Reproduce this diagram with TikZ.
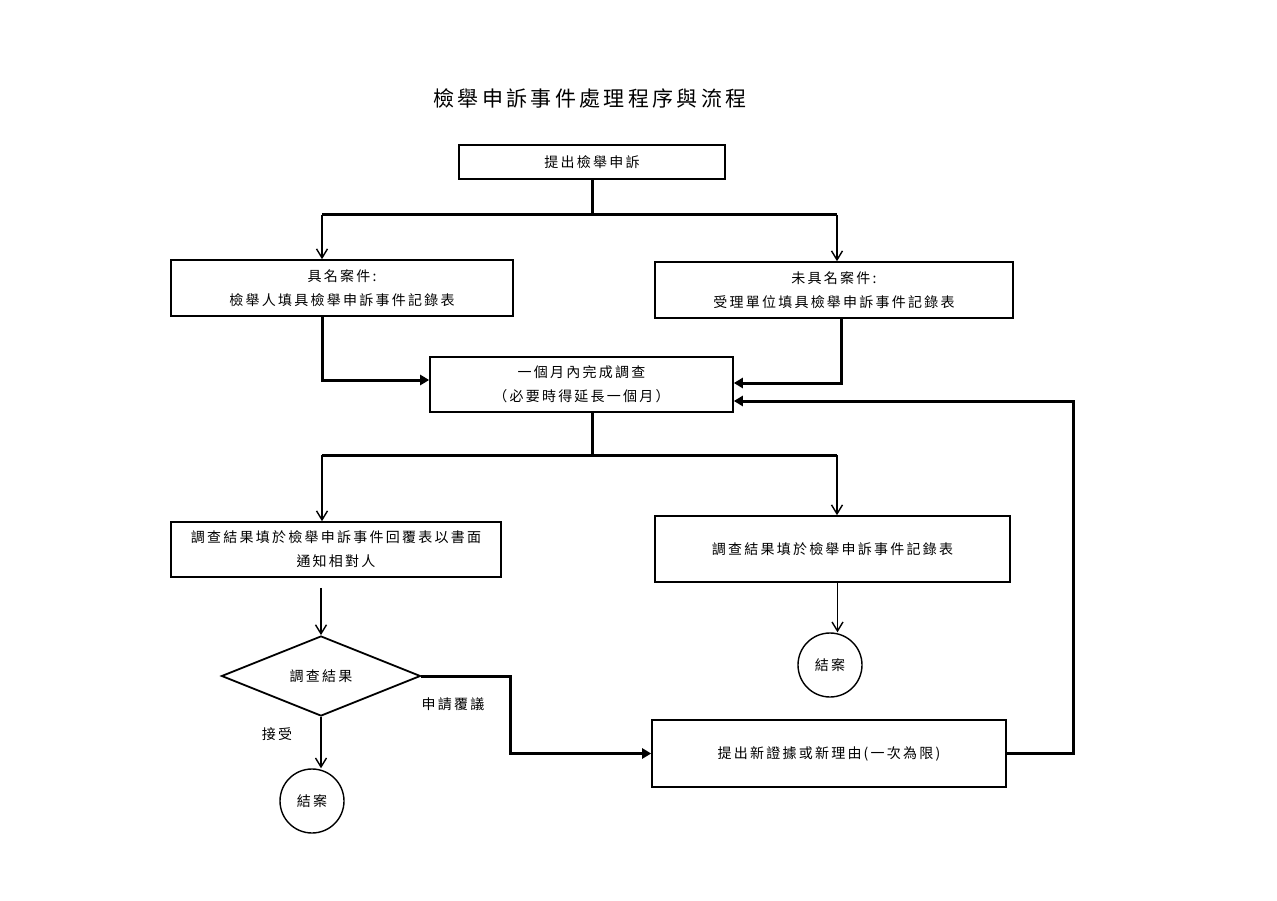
\documentclass[tikz,border=0pt]{standalone}
\usepackage{fontspec}
\newfontfamily\cjk[LetterSpace=16]{Noto Sans CJK TC}
\usetikzlibrary{shapes.geometric,arrows.meta}
\begin{document}
\begin{tikzpicture}
[x=1pt,y=-1pt,
  boxdecorate/.style={shape=rectangle,draw,line width=1.6pt,inner sep=0pt,align=center,
    font=\cjk\fontsize{14}{24}\selectfont},
  enddecorate/.style={shape=circle,draw,line width=1.4pt,inner sep=0pt,minimum size=64pt,
    font=\cjk\fontsize{14}{24}\selectfont},
  labeldecorate/.style={font=\cjk\fontsize{14}{24}\selectfont},
  thicklinedecorate/.style={-,line width=3pt},
  thickarrowdecorate/.style={-{Triangle[length=9pt,width=10pt]},line width=3pt},
  thinarrowdecorate/.style={-{Straight Barb[length=9pt,width=11pt,line width=1.4pt]},line width=1.4pt}]
\useasboundingbox (0,0) rectangle (1277,901);
%% title
\node (title) at (590,98) [font=\cjk\fontsize{21}{24}\selectfont] {檢舉申訴事件處理程序與流程};
%% boxes
\foreach \nodename/\x/\y/\w/\h/\txt in {
  submit/592/162/266/34/{提出檢舉申訴},
  named/342/288/342/56/{具名案件:\\檢舉人填具檢舉申訴事件記錄表},
  anon/834/290/358/56/{未具名案件:\\受理單位填具檢舉申訴事件記錄表},
  investigate/581.5/384.5/303/55/{一個月內完成調查\\（必要時得延長一個月）},
  reply/336/549.5/330/55/{調查結果填於檢舉申訴事件回覆表以書面\\通知相對人},
  record/832.5/549/355/66/{調查結果填於檢舉申訴事件記錄表},
  newevid/829/753.5/354/67/{提出新證據或新理由(一次為限)}} {
  \node (\nodename) at (\x,\y) [boxdecorate,minimum width=\w pt,minimum height=\h pt] {\txt};
}
\node (decision) at (321,676) [shape=diamond,draw,line width=1.8pt,inner sep=0pt,
  minimum width=199pt,minimum height=80pt,labeldecorate] {調查結果};
\node (end1) at (312,801) [enddecorate] {結案};
\node (end2) at (830,665) [enddecorate] {結案};
%% labels
\node (accept) at (277,734) [labeldecorate] {接受};
\node (appeal) at (453,704) [labeldecorate] {申請覆議};
%% junction points
\coordinate (split1) at (592,215);
\coordinate (split1L) at (322,215);
\coordinate (split1R) at (837,215);
\coordinate (split2) at (592,455);
\coordinate (split2L) at (322,455);
\coordinate (split2R) at (837,455);
\coordinate (bend) at (510,676);
\coordinate (loopTop) at (1073,401);
%% edges or lines
\draw[thicklinedecorate] (submit.south -| split1) -- (split1);
\draw[thicklinedecorate] (split1L) -- (split1R);
\draw[thinarrowdecorate] (split1L) -- (split1L |- named.north);
\draw[thinarrowdecorate] (split1R) -- (split1R |- anon.north);
\draw[thickarrowdecorate] (named.south -| split1L) |- ([yshift=4.5pt]investigate.west);
\draw[thickarrowdecorate] ([xshift=7pt]anon.south) |- ([yshift=1.5pt]investigate.east);
\draw[thicklinedecorate] (investigate.south -| split2) -- (split2);
\draw[thicklinedecorate] (split2L) -- (split2R);
\draw[thinarrowdecorate] (split2L) -- (split2L |- reply.north);
\draw[thinarrowdecorate] (split2R) -- (split2R |- record.north);
\draw[thinarrowdecorate] ([yshift=-10pt]reply.south -| decision) -- (decision.north);
\draw[thinarrowdecorate] (decision.south) -- (decision.south |- end1.north);
\draw[thinarrowdecorate] ([xshift=5pt]record.south) -- ([xshift=5pt]record.south |- end2.north);
\draw[thickarrowdecorate] (decision.east) -- (bend) |- (newevid.west);
\draw[thickarrowdecorate] (newevid.east) -| (loopTop) -- (loopTop -| investigate.east);
\end{tikzpicture}
\end{document}
